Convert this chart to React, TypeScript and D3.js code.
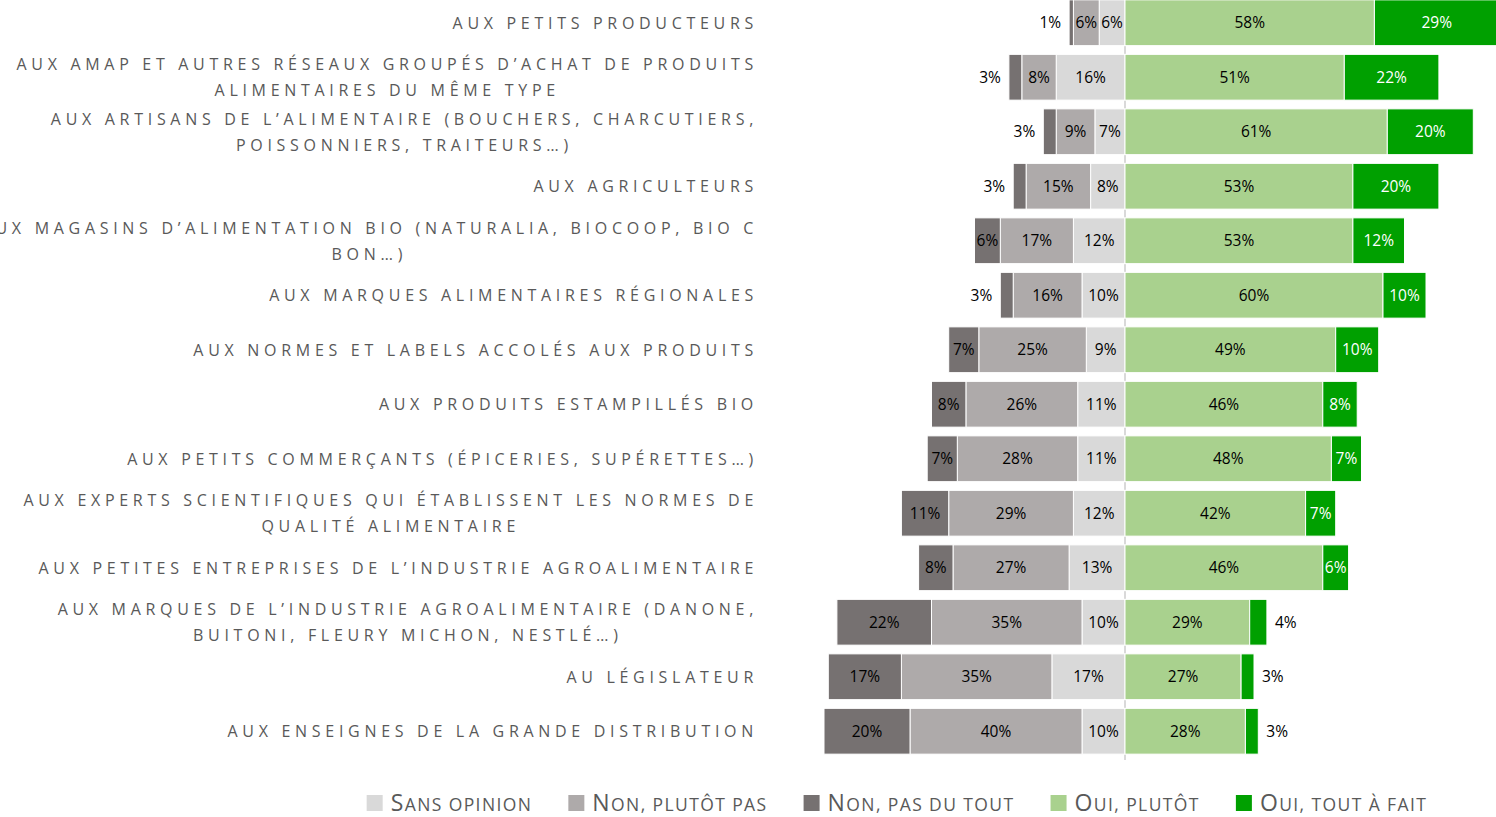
import React, { useEffect, useRef } from "react";
import * as d3 from "d3";

// categories, each line separated by "|"
const categories = [
  "AUX PETITS PRODUCTEURS",
  "AUX AMAP ET AUTRES RÉSEAUX GROUPÉS D’ACHAT DE PRODUITS|ALIMENTAIRES DU MÊME TYPE",
  "AUX ARTISANS DE L’ALIMENTAIRE (BOUCHERS, CHARCUTIERS,|POISSONNIERS, TRAITEURS…)",
  "AUX AGRICULTEURS",
  "AUX MAGASINS D’ALIMENTATION BIO (NATURALIA, BIOCOOP, BIO C|BON…)",
  "AUX MARQUES ALIMENTAIRES RÉGIONALES",
  "AUX NORMES ET LABELS ACCOLÉS AUX PRODUITS",
  "AUX PRODUITS ESTAMPILLÉS BIO",
  "AUX PETITS COMMERÇANTS (ÉPICERIES, SUPÉRETTES…)",
  "AUX EXPERTS SCIENTIFIQUES QUI ÉTABLISSENT LES NORMES DE|QUALITÉ ALIMENTAIRE",
  "AUX PETITES ENTREPRISES DE L’INDUSTRIE AGROALIMENTAIRE",
  "AUX MARQUES DE L’INDUSTRIE AGROALIMENTAIRE (DANONE,|BUITONI, FLEURY MICHON, NESTLÉ…)",
  "AU LÉGISLATEUR",
  "AUX ENSEIGNES DE LA GRANDE DISTRIBUTION",
];

const sansOpinion = [6, 16, 7, 8, 12, 10, 9, 11, 11, 12, 13, 10, 17, 10];
const nonPlutotPas = [6, 8, 9, 15, 17, 16, 25, 26, 28, 29, 27, 35, 35, 40];
const nonPasDuTout = [1, 3, 3, 3, 6, 3, 7, 8, 7, 11, 8, 22, 17, 20];
const ouiPlutot = [58, 51, 61, 53, 53, 60, 49, 46, 48, 42, 46, 29, 27, 28];
const ouiToutAFait = [29, 22, 20, 20, 12, 10, 10, 8, 7, 7, 6, 4, 3, 3];

const legendItems = [
  { label: "Sans opinion", color: "#d9d9d9" },
  { label: "Non, plutôt pas", color: "#aeaaaa" },
  { label: "Non, pas du tout", color: "#767171" },
  { label: "Oui, plutôt", color: "#a9d18e" },
  { label: "Oui, tout à fait", color: "#00a000" },
];

const W = 1496;
const H = 817;

const App = () => {
  const svgRef = useRef<SVGSVGElement>(null);

  useEffect(() => {
    const svg = d3.select(svgRef.current);
    svg.selectAll("*").remove();

    const x = d3.scaleLinear().domain([-70, 87]).range([1125 - 301, 1125 + 374.1]);
    const y = d3
      .scaleBand<number>()
      .domain(d3.range(categories.length))
      .range([-4.5, 758.5])
      .paddingInner(0.16)
      .paddingOuter(0.08);

    // center line
    svg.append("line")
      .attr("x1", x(0)).attr("x2", x(0))
      .attr("y1", 0).attr("y2", 760)
      .attr("stroke", "#d9d9d9")
      .attr("stroke-width", 2);

    const rows = categories.map((c, i) => {
      const segs: { v: number; x0: number; x1: number; color: string; text: string; side: string }[] = [];
      let l = 0;
      [
        { v: sansOpinion[i], color: "#d9d9d9", text: "#000" },
        { v: nonPlutotPas[i], color: "#aeaaaa", text: "#000" },
        { v: nonPasDuTout[i], color: "#767171", text: "#000" },
      ].forEach((s, k) => {
        segs.push({ v: s.v, x0: -(l + s.v), x1: -l, color: s.color, text: s.text, side: k === 2 ? "left" : "" });
        l += s.v;
      });
      let r = 0;
      [
        { v: ouiPlutot[i], color: "#a9d18e", text: "#000" },
        { v: ouiToutAFait[i], color: "#00a000", text: "#fff" },
      ].forEach((s, k) => {
        segs.push({ v: s.v, x0: r, x1: r + s.v, color: s.color, text: s.text, side: k === 1 ? "right" : "" });
        r += s.v;
      });
      return { i, segs };
    });

    const g = svg.append("g");
    rows.forEach((row) => {
      const yy = y(row.i)!;
      const cy = yy + y.bandwidth() / 2;
      row.segs.forEach((s) => {
        g.append("rect")
          .attr("x", x(s.x0))
          .attr("y", yy)
          .attr("width", x(s.x1) - x(s.x0))
          .attr("height", y.bandwidth())
          .attr("fill", s.color)
          .attr("stroke", "#fff")
          .attr("stroke-width", 1);
      });
      row.segs.forEach((s) => {
        const small = s.v <= 4 && s.side !== "";
        const t = g.append("text")
          .attr("y", cy)
          .attr("dy", "0.36em")
          .attr("font-family", "'Open Sans', sans-serif")
          .attr("font-size", 15.5)
          .text(`${s.v}%`);
        if (small && s.side === "left") {
          t.attr("x", x(s.x0) - 8).attr("text-anchor", "end").attr("fill", "#000");
        } else if (small && s.side === "right") {
          t.attr("x", x(s.x1) + 8).attr("text-anchor", "start").attr("fill", "#000");
        } else {
          t.attr("x", (x(s.x0) + x(s.x1)) / 2).attr("text-anchor", "middle").attr("fill", s.text);
        }
      });
    });

    // category labels
    const labelRight = 758;
    categories.forEach((c, i) => {
      const lines = c.split("|");
      const cy = y(i)! + y.bandwidth() / 2;
      const lg = svg.append("g")
        .attr("font-family", "'Open Sans', sans-serif")
        .attr("font-size", 16)
        .attr("fill", "#595959")
        .style("letter-spacing", "4.7px");
      if (lines.length === 1) {
        lg.append("text")
          .attr("x", labelRight)
          .attr("y", cy + 6)
          .attr("text-anchor", "end")
          .text(lines[0]);
      } else {
        const first = lg.append("text")
          .attr("x", labelRight)
          .attr("y", cy - 7)
          .attr("text-anchor", "end")
          .text(lines[0]);
        const w1 = (first.node() as SVGTextElement).getComputedTextLength();
        lg.append("text")
          .attr("x", labelRight - w1 / 2)
          .attr("y", cy + 19)
          .attr("text-anchor", "middle")
          .text(lines[1]);
      }
    });

    // legend (small caps drawn by hand: first letter large, rest upper-case smaller)
    const leg = svg.append("g");
    const items = legendItems.map((d) => {
      const gi = leg.append("g");
      gi.append("rect").attr("width", 16).attr("height", 16).attr("y", 795).attr("fill", d.color);
      const t = gi.append("text")
        .attr("x", 24)
        .attr("y", 811)
        .attr("font-family", "'Open Sans', sans-serif")
        .attr("fill", "#595959")
        .style("letter-spacing", "1.4px");
      t.append("tspan").attr("font-size", 23).text(d.label[0].toUpperCase());
      t.append("tspan").attr("font-size", 17.5).text(d.label.slice(1).toUpperCase());
      const w = (t.node() as SVGTextElement).getComputedTextLength();
      return { gi, w: 24 + w };
    });
    const gap = 36;
    const total = d3.sum(items, (d) => d.w) + gap * (items.length - 1);
    let cx = 897 - total / 2;
    items.forEach((it) => {
      it.gi.attr("transform", `translate(${cx},0)`);
      cx += it.w + gap;
    });
  }, []);

  return (
    <svg
      ref={svgRef}
      width={W}
      height={H}
      style={{ position: "absolute", left: 0, top: 0, background: "#fff" }}
    />
  );
};

export default App;
